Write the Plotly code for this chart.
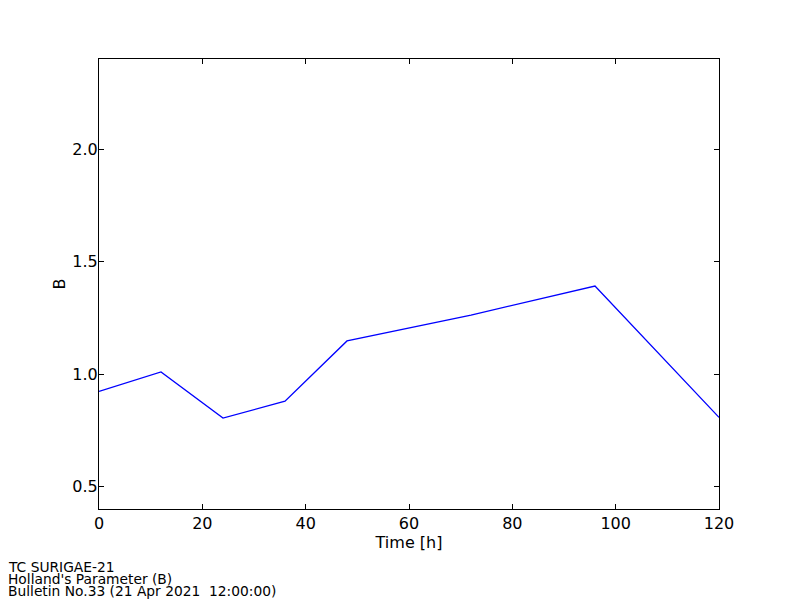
import plotly.graph_objects as go

time_h = [0, 12, 24, 36, 48, 72, 96, 120]
b_values = [0.923, 1.009, 0.804, 0.879, 1.147, 1.262, 1.391, 0.807]
x_ticks = [0, 20, 40, 60, 80, 100, 120]
y_ticks = [0.5, 1.0, 1.5, 2.0]
y_tick_labels = ["0.5", "1.0", "1.5", "2.0"]
footer_lines = ["TC SURIGAE-21", "Holland's Parameter (B)", "Bulletin No.33 (21 Apr 2021  12:00:00)"]

fig = go.Figure()
fig.add_trace(go.Scatter(x=time_h, y=b_values, mode="lines",
                         line=dict(color="#0000ff", width=1.3), showlegend=False))

axis_common = dict(showline=True, linecolor="black", linewidth=1.2, mirror="ticks",
                   ticks="inside", ticklen=5, tickcolor="black", tickwidth=1,
                   showgrid=False, zeroline=False,
                   tickfont=dict(family="DejaVu Sans", size=16, color="black"))

# page body has an 8px offset; compensate in margins
L, T, PW, PH = 91, 51, 620, 450
fig.update_layout(
    width=800, height=600,
    paper_bgcolor="white", plot_bgcolor="white",
    margin=dict(l=L, r=800 - L - PW, t=T, b=600 - T - PH),
    xaxis=dict(range=[0, 120], tickvals=x_ticks, ticktext=[str(v) for v in x_ticks],
               title=dict(text="Time [h]", font=dict(family="DejaVu Sans", size=16, color="black"),
                          standoff=4), **axis_common),
    yaxis=dict(range=[0.4, 2.4], tickvals=y_ticks, ticktext=y_tick_labels, ticklabelstandoff=-3,
               title=dict(text="B", font=dict(family="DejaVu Sans", size=16, color="black"),
                          standoff=2), **axis_common),
)

for i, line in enumerate(footer_lines):
    fig.add_annotation(text=line, xref="paper", yref="paper", x=-93/620,
                       y=-(567 - 509) / 450 - i * 12 / 450,
                       xanchor="left", yanchor="middle", showarrow=False, align="left",
                       font=dict(family="DejaVu Sans", size=13.8, color="black"))

fig.write_html("out.html")
